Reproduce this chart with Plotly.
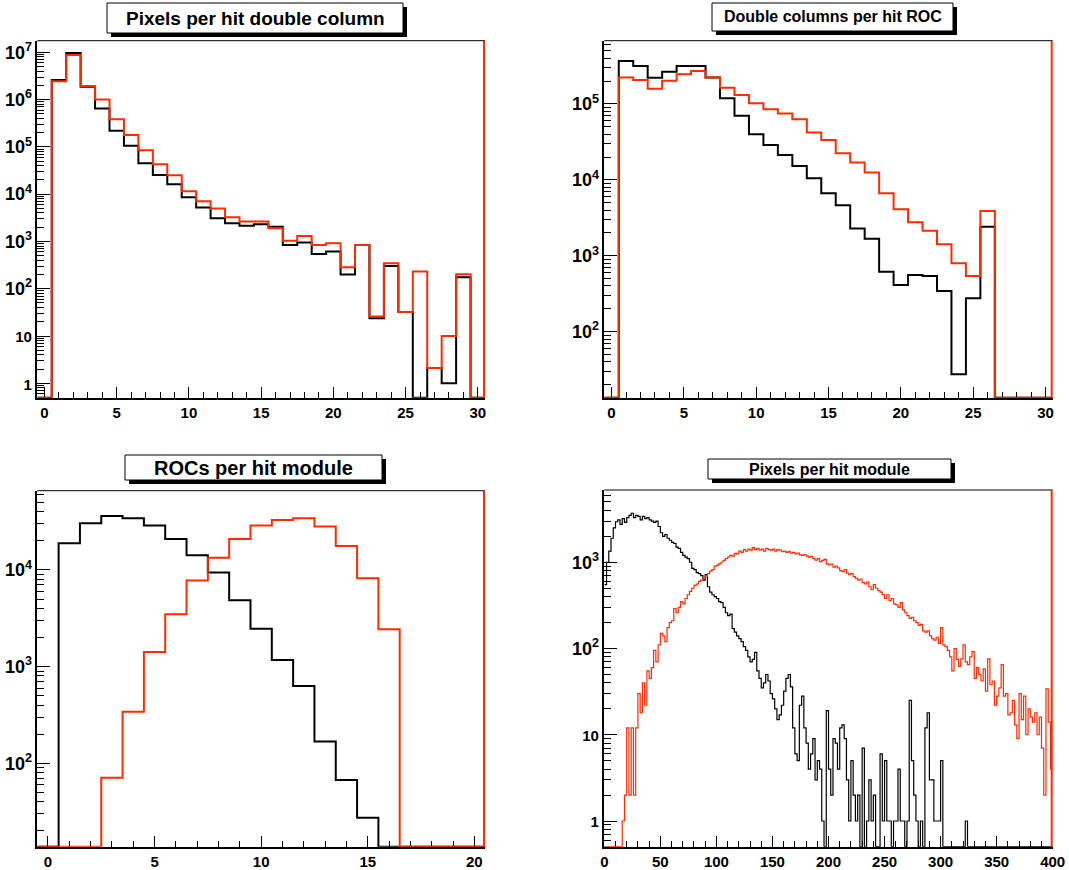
import math
import plotly.graph_objects as go

W, H = 1069, 870

# ---------------- data (bin contents, 0 = empty bin) ----------------
# Panel 1: Pixels per hit double column, bins centred on 0..30
p1_black = [0, 2.6e6, 9.7e6, 1.88e6, 6.5e5, 2.2e5, 1.06e5, 4.5e4, 2.55e4, 1.62e4,
            8.6e3, 5.2e3, 3.1e3, 2.43e3, 2.16e3, 2.3e3, 2.05e3, 845, 946, 545,
            611, 200, 845, 23.8, 304, 32, 0, 2.1, 1, 175, 0]
p1_red = [0, 2.45e6, 8.8e6, 1.94e6, 1.01e6, 3.83e5, 1.79e5, 8.5e4, 4.3e4, 2.5e4,
          1.15e4, 7.1e3, 4.95e3, 3.25e3, 2.63e3, 2.63e3, 1.9e3, 1.04e3, 1.31e3, 845,
          916, 285, 845, 25.9, 346, 32, 231, 2.1, 10, 202, 0]

# Panel 2: Double columns per hit ROC, bins centred on 0..30
p2_black = [0, 3.69e5, 3.17e5, 2.22e5, 2.67e5, 3.17e5, 3.17e5, 2.24e5, 1.19e5, 7.0e4,
            4.0e4, 2.88e4, 2.13e4, 1.52e4, 1.05e4, 6.65e3, 4.62e3, 2.28e3, 1.68e3, 616,
            412, 558, 541, 343, 27.4, 275, 2.42e3, 0, 0, 0, 0]
p2_red = [0, 2.24e5, 2.07e5, 1.59e5, 2.03e5, 2.46e5, 2.72e5, 2.24e5, 1.64e5, 1.31e5,
          1.02e5, 8.5e4, 7.5e4, 6.3e4, 4.2e4, 3.36e4, 2.24e4, 1.7e4, 1.25e4, 6.65e3,
          4.1e3, 2.76e3, 2.14e3, 1.42e3, 796, 542, 3.9e3, 0, 0, 0, 0]

# Panel 3: ROCs per hit module, bins centred on 0..20
p3_black = [0, 1.89e4, 3.04e4, 3.62e4, 3.42e4, 2.88e4, 2.09e4, 1.42e4, 9.4e3, 4.85e3,
            2.47e3, 1.17e3, 631, 168, 67, 27.4, 0, 0, 0, 0, 0]
p3_red = [0, 0, 0, 71, 342, 1.42e3, 3.48e3, 7.76e3, 1.34e4, 2.09e4,
          2.88e4, 3.29e4, 3.42e4, 2.81e4, 1.77e4, 8.2e3, 2.43e3, 0, 0, 0, 0]

# Panel 4: Pixels per hit module, 200 bins of width 2 from 0 to 400
p4_black = [550, 1000, 1350, 1900, 2500, 2950, 3100, 2750, 3200, 2900,
            3300, 3500, 3700, 3300, 3500, 3400, 3100, 3400, 3200, 3300,
            3100, 3000, 2900, 3000, 2600, 2200, 2000, 2100, 1900, 1800,
            1700, 1650, 1500, 1450, 1300, 1200, 1150, 1100, 1000, 850,
            820, 760, 740, 700, 620, 720, 520, 450, 420, 400,
            380, 350, 340, 300, 260, 240, 250, 170, 155, 140,
            130, 120, 105, 95, 80, 70, 75, 90, 55, 45,
            35, 40, 50, 42, 30, 26, 20, 15, 17, 22,
            32, 45, 50, 36, 12, 6, 5, 22, 28, 12,
            8, 4, 6, 9, 3, 5, 4, 1, 0, 19,
            4, 2, 9, 8, 4, 12, 13, 9, 3, 1,
            5, 2, 1, 2, 0, 7, 0, 1, 3, 1,
            2, 0, 0, 6, 1, 5, 1, 1, 0, 1,
            1, 4, 1, 1, 0, 1, 25, 5, 2, 1,
            0, 1, 0, 12, 18, 3, 3, 1, 1, 1,
            5, 0, 0, 0, 0, 0, 0, 0, 0, 0,
            0, 1, 0, 0, 0, 0, 0, 0, 0, 0,
            0, 0, 0, 0, 0, 0, 0, 0, 0, 0,
            0, 0, 0, 0, 0, 0, 0, 0, 0, 0,
            0, 0, 0, 0, 0, 0, 0, 0, 0, 0]
p4_red = [0, 0, 0, 0, 0, 0, 0, 0, 1, 2,
          12, 2, 12, 2, 12, 30, 18, 40, 22, 55,
          45, 60, 95, 70, 110, 150, 140, 120, 175, 200,
          210, 290, 260, 300, 350, 330, 380, 420, 460, 500,
          540, 560, 600, 620, 660, 700, 740, 790, 820, 900,
          920, 960, 1000, 1050, 1100, 1150, 1200, 1180, 1270, 1250,
          1350, 1300, 1400, 1350, 1420, 1380, 1480, 1400, 1450, 1380,
          1420, 1350, 1450, 1400, 1380, 1420, 1350, 1400, 1380, 1330,
          1350, 1300, 1330, 1280, 1300, 1250, 1280, 1220, 1200, 1230,
          1180, 1150, 1170, 1100, 1060, 1100, 1020, 1050, 1080, 960,
          930, 950, 880, 900, 860, 800, 780, 820, 750, 720,
          740, 680, 650, 620, 640, 580, 560, 590, 520, 480,
          550, 500, 470, 450, 420, 380, 420, 360, 380, 330,
          320, 300, 340, 280, 260, 240, 224, 230, 210, 200,
          185, 190, 160, 155, 160, 140, 130, 125, 135, 115,
          175, 110, 105, 95, 80, 55, 100, 75, 62, 76,
          110, 70, 65, 80, 92, 45, 60, 50, 42, 58,
          32, 76, 38, 42, 22, 28, 35, 65, 28, 30,
          17, 18, 25, 13, 9, 30, 15, 28, 10, 20,
          16, 14, 18, 10, 16, 7, 2, 34, 14, 4]

titles = ["Pixels per hit double column", "Double columns per hit ROC",
          "ROCs per hit module", "Pixels per hit module"]

# ---------------- layout / style ----------------
RED = "#ff2a00"
BLACK = "#000000"
FONT = "Liberation Sans"

panels = [
    dict(box=(37.3, 485, 40.7, 397.7), xr=(-0.5, 30.5), yr=(-0.305, 7.246),
         xmaj=5, xmin=1, lo=-0.5, bw=1, black=p1_black, red=p1_red, lw=2,
         title_box=(107, 403, 3, 33), tsize=19),
    dict(box=(604.3, 1052.7, 40.7, 397.7), xr=(-0.5, 30.5), yr=(1.130, 5.834),
         xmaj=5, xmin=1, lo=-0.5, bw=1, black=p2_black, red=p2_red, lw=2,
         title_box=(712, 953, 3, 31), tsize=16),
    dict(box=(37.3, 485, 490.7, 846.7), xr=(-0.5, 20.5), yr=(1.137, 4.82),
         xmaj=5, xmin=1, lo=-0.5, bw=1, black=p3_black, red=p3_red, lw=2,
         title_box=(125, 382, 455, 480), tsize=20),
    dict(box=(604.3, 1052.7, 490, 846.7), xr=(0, 400), yr=(-0.298, 3.838),
         xmaj=50, xmin=10, lo=0, bw=2, black=p4_black, red=p4_red, lw=1.2,
         title_box=(708, 951, 459, 479), tsize=16),
]


def steps(lo, bw, values, floor):
    xs = [lo + i * bw for i in range(len(values) + 1)]
    ys = [v if v > 0 else floor for v in values]
    ys.append(ys[-1])
    return xs, ys


def frange(a, b, s):
    out = []
    v = a
    while v <= b + 1e-9:
        out.append(round(v, 6))
        v += s
    return out


fig = go.Figure()
layout = dict(width=W, height=H, margin=dict(l=0, r=0, t=0, b=0, pad=0), autosize=False,
              paper_bgcolor="white", plot_bgcolor="white", showlegend=False)
shapes = []
annotations = []

for i, p in enumerate(panels):
    n = "" if i == 0 else str(i + 1)
    xa, ya = "xaxis" + n, "yaxis" + n
    xref, yref = "x" + n, "y" + n
    x0, x1, y0, y1 = p["box"]
    floor = 10 ** p["yr"][0]

    for vals, col in ((p["black"], BLACK), (p["red"], RED)):
        xs, ys = steps(p["lo"], p["bw"], vals, floor)
        fig.add_trace(go.Scatter(x=xs, y=ys, mode="lines", line_shape="hv",
                                 line=dict(color=col, width=p["lw"]),
                                 xaxis=xref, yaxis=yref, hoverinfo="skip"))

    xmaj = frange(math.ceil(p["xr"][0] / p["xmaj"]) * p["xmaj"], p["xr"][1], p["xmaj"])
    xmin = [v for v in frange(math.ceil(p["xr"][0]), p["xr"][1], p["xmin"]) if v not in xmaj]
    layout[xa] = dict(domain=[x0 / W, x1 / W], anchor=yref, range=list(p["xr"]),
                      automargin=False,
                      tickmode="array", tickvals=xmaj, ticktext=[str(int(v)) for v in xmaj],
                      ticks="inside", ticklen=11, tickwidth=1, tickcolor=BLACK,
                      minor=dict(tickmode="array", tickvals=xmin, ticks="inside",
                                 ticklen=6, tickwidth=1, tickcolor=BLACK, showgrid=False),
                      showline=True, linecolor=BLACK, linewidth=2, showgrid=False,
                      zeroline=False, layer="below traces",
                      tickfont=dict(family=FONT, size=15, color=BLACK, weight="bold"))

    ylo, yhi = p["yr"]
    ymaj, ytxt, ymin = [], [], []
    for d in range(math.floor(ylo) - 1, math.ceil(yhi) + 1):
        if ylo <= d <= yhi:
            ymaj.append(10 ** d)
            if d == 0:
                ytxt.append("<span style='font-size:15px'>1</span>")
            elif d == 1:
                ytxt.append("<span style='font-size:15px'>10</span>")
            else:
                ytxt.append("10<sup>%d</sup>" % d)
        for m in range(2, 10):
            v = m * 10 ** d
            if ylo <= math.log10(v) <= yhi:
                ymin.append(v)
    layout[ya] = dict(domain=[1 - y1 / H, 1 - y0 / H], anchor=xref, type="log",
                      range=[ylo, yhi], automargin=False,
                      tickmode="array", tickvals=ymaj, ticktext=ytxt,
                      ticks="inside", ticklen=13, tickwidth=1, tickcolor=BLACK,
                      minor=dict(tickmode="array", tickvals=ymin, ticks="inside",
                                 ticklen=7, tickwidth=1, tickcolor=BLACK, showgrid=False),
                      showline=True, linecolor=BLACK, linewidth=1.5, showgrid=False,
                      zeroline=False, layer="below traces",
                      tickfont=dict(family=FONT, size=18, color=BLACK, weight="bold"))

    # top frame edge (black) and right frame edge (red)
    shapes.append(dict(type="line", xref="paper", yref="paper",
                       x0=x0 / W, x1=x1 / W, y0=1 - y0 / H, y1=1 - y0 / H,
                       line=dict(color=BLACK, width=1)))
    shapes.append(dict(type="line", xref="paper", yref="paper",
                       x0=(x1 - 1) / W, x1=(x1 - 1) / W, y0=1 - y1 / H, y1=1 - y0 / H,
                       line=dict(color=RED, width=2)))

    # title box with drop shadow
    bx0, bx1, by0, by1 = p["title_box"]
    shapes.append(dict(type="rect", xref="paper", yref="paper",
                       x0=(bx0 + 4) / W, x1=(bx1 + 4) / W,
                       y0=1 - (by1 + 4) / H, y1=1 - (by0 + 4) / H,
                       fillcolor=BLACK, line=dict(width=0)))
    shapes.append(dict(type="rect", xref="paper", yref="paper",
                       x0=bx0 / W, x1=bx1 / W, y0=1 - by1 / H, y1=1 - by0 / H,
                       fillcolor="white", line=dict(color=BLACK, width=1)))
    annotations.append(dict(xref="paper", yref="paper",
                            x=(bx0 + bx1) / 2 / W, y=1 - (by0 + by1) / 2 / H,
                            text="<b>%s</b>" % titles[i], showarrow=False,
                            xanchor="center", yanchor="middle",
                            font=dict(family=FONT, size=p["tsize"], color=BLACK)))

layout["shapes"] = shapes
layout["annotations"] = annotations
fig.update_layout(**layout)
fig.write_html("out.html", config={"displayModeBar": False},
               post_script="document.body.style.margin='0';"
                           "document.documentElement.style.overflow='hidden';"
                           "document.body.style.overflow='hidden';")
